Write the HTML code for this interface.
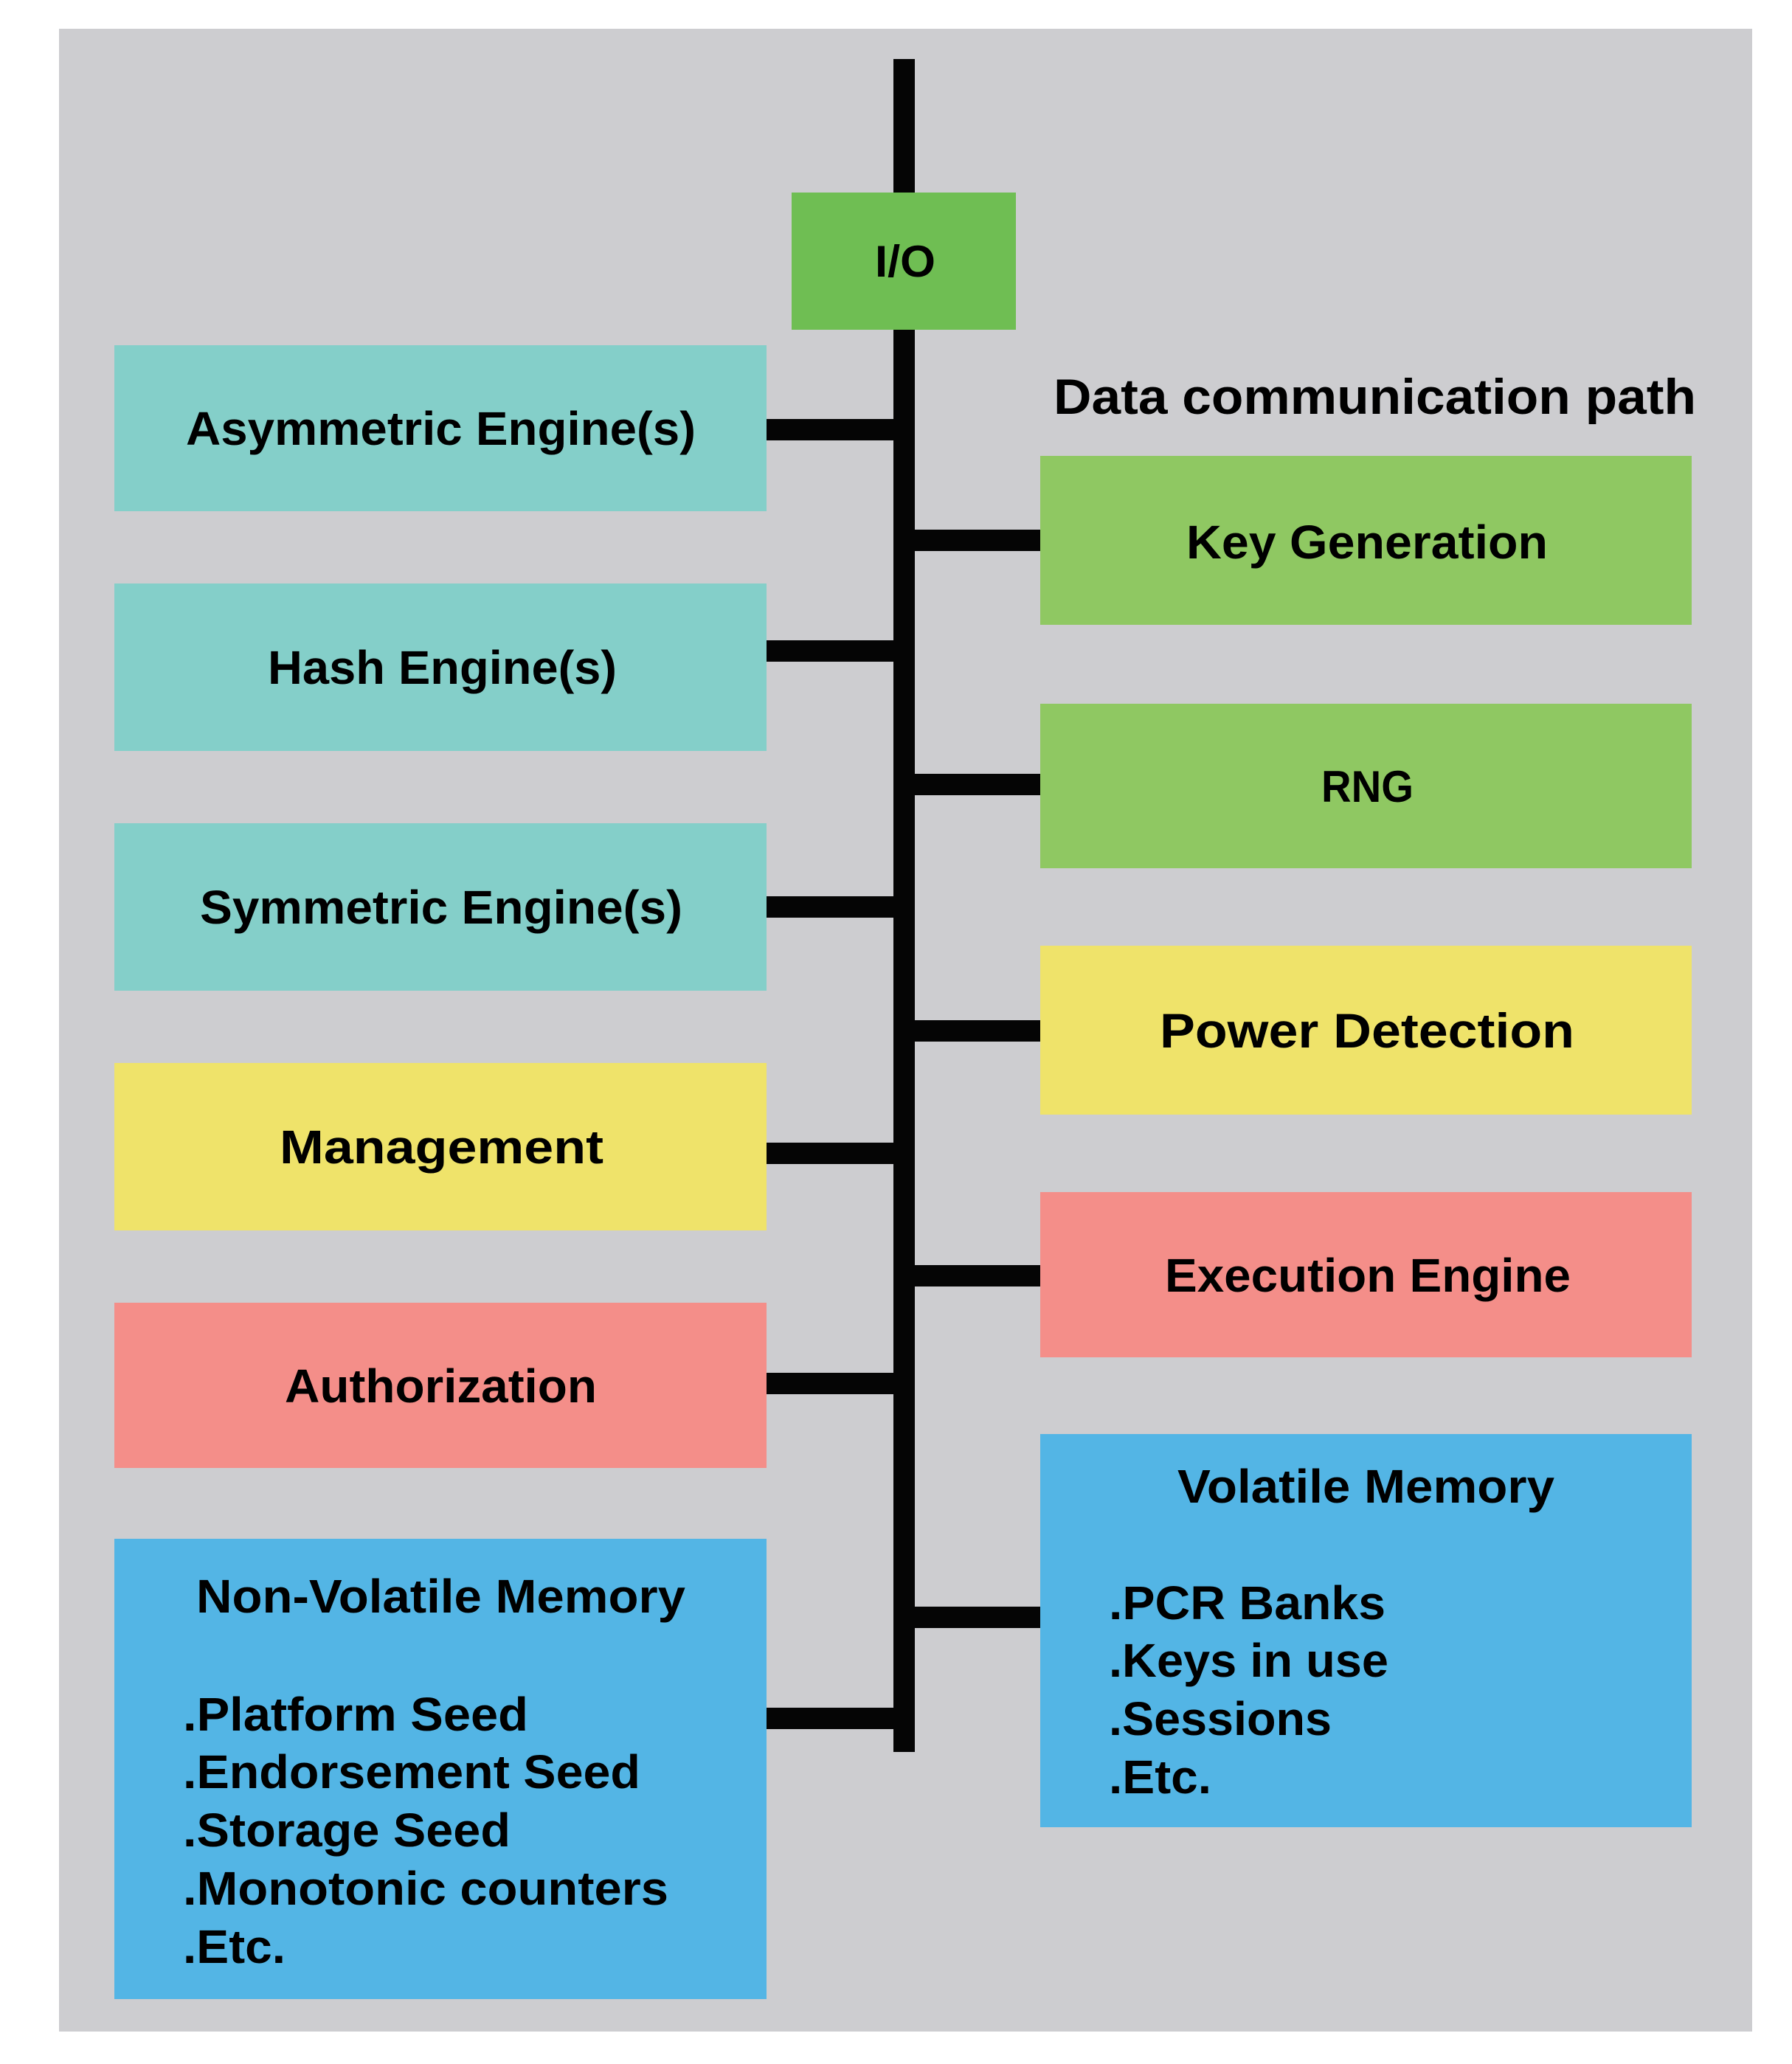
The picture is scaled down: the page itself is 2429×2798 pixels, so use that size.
<!DOCTYPE html>
<html><head><meta charset="utf-8"><style>
html,body{margin:0;padding:0;background:#fff}
svg{display:block}
text{font-family:"Liberation Sans",Arial,sans-serif;font-weight:bold;fill:#000}
</style></head><body>
<svg width="2429" height="2798" viewBox="0 0 2429 2798" xmlns="http://www.w3.org/2000/svg">
<rect x="0" y="0" width="2429" height="2798" fill="#fff"/>
<rect x="80" y="39" width="2295" height="2715" fill="#cdcdd0"/>
<!-- bus -->
<rect x="1211" y="80" width="29" height="2295" fill="#050505"/>
<!-- I/O -->
<rect x="1073" y="261" width="304" height="186" fill="#6fbe53"/>
<text x="1186" y="375" font-size="60" textLength="82" lengthAdjust="spacingAndGlyphs">I/O</text>
<!-- left connectors -->
<rect x="1033" y="568" width="180" height="29" fill="#050505"/>
<rect x="1033" y="868" width="180" height="29" fill="#050505"/>
<rect x="1033" y="1215" width="180" height="29" fill="#050505"/>
<rect x="1033" y="1549" width="180" height="29" fill="#050505"/>
<rect x="1033" y="1861" width="180" height="29" fill="#050505"/>
<rect x="1033" y="2315" width="180" height="29" fill="#050505"/>
<!-- right connectors -->
<rect x="1238" y="718" width="182" height="29" fill="#050505"/>
<rect x="1238" y="1049" width="182" height="29" fill="#050505"/>
<rect x="1238" y="1383" width="182" height="29" fill="#050505"/>
<rect x="1238" y="1715" width="182" height="29" fill="#050505"/>
<rect x="1238" y="2178" width="182" height="29" fill="#050505"/>
<!-- left boxes -->
<rect x="155" y="468" width="884" height="225" fill="#84cfc9"/>
<text x="252" y="603" font-size="64" textLength="691" lengthAdjust="spacingAndGlyphs">Asymmetric Engine(s)</text>
<rect x="155" y="791" width="884" height="227" fill="#84cfc9"/>
<text x="363" y="927" font-size="64" textLength="473" lengthAdjust="spacingAndGlyphs">Hash Engine(s)</text>
<rect x="155" y="1116" width="884" height="227" fill="#84cfc9"/>
<text x="271" y="1252" font-size="64" textLength="654" lengthAdjust="spacingAndGlyphs">Symmetric Engine(s)</text>
<rect x="155" y="1441" width="884" height="227" fill="#efe36a"/>
<text x="379" y="1577" font-size="64" textLength="439" lengthAdjust="spacingAndGlyphs">Management</text>
<rect x="155" y="1766" width="884" height="224" fill="#f48e89"/>
<text x="386" y="1901" font-size="64" textLength="423" lengthAdjust="spacingAndGlyphs">Authorization</text>
<rect x="155" y="2086" width="884" height="624" fill="#53b5e5"/>
<text x="266" y="2186" font-size="64" textLength="663" lengthAdjust="spacingAndGlyphs">Non-Volatile Memory</text>
<text x="248" y="2346" font-size="64" textLength="468" lengthAdjust="spacingAndGlyphs">.Platform Seed</text>
<text x="248" y="2424" font-size="64" textLength="620" lengthAdjust="spacingAndGlyphs">.Endorsement Seed</text>
<text x="248" y="2503" font-size="64" textLength="444" lengthAdjust="spacingAndGlyphs">.Storage Seed</text>
<text x="248" y="2582" font-size="64" textLength="658" lengthAdjust="spacingAndGlyphs">.Monotonic counters</text>
<text x="248" y="2661" font-size="64" textLength="139" lengthAdjust="spacingAndGlyphs">.Etc.</text>
<!-- right side -->
<text x="1428" y="561" font-size="68" textLength="871" lengthAdjust="spacingAndGlyphs">Data communication path</text>
<rect x="1410" y="618" width="883" height="229" fill="#8fc862"/>
<text x="1608" y="757" font-size="64" textLength="490" lengthAdjust="spacingAndGlyphs">Key Generation</text>
<rect x="1410" y="954" width="883" height="223" fill="#8fc862"/>
<text x="1791" y="1087" font-size="60" textLength="125" lengthAdjust="spacingAndGlyphs">RNG</text>
<rect x="1410" y="1282" width="883" height="229" fill="#efe36a"/>
<text x="1572" y="1420" font-size="66" textLength="562" lengthAdjust="spacingAndGlyphs">Power Detection</text>
<rect x="1410" y="1616" width="883" height="224" fill="#f48e89"/>
<text x="1579" y="1751" font-size="64" textLength="550" lengthAdjust="spacingAndGlyphs">Execution Engine</text>
<rect x="1410" y="1944" width="883" height="533" fill="#53b5e5"/>
<text x="1596" y="2037" font-size="64" textLength="511" lengthAdjust="spacingAndGlyphs">Volatile Memory</text>
<text x="1503" y="2195" font-size="64" textLength="375" lengthAdjust="spacingAndGlyphs">.PCR Banks</text>
<text x="1503" y="2273" font-size="64" textLength="379" lengthAdjust="spacingAndGlyphs">.Keys in use</text>
<text x="1503" y="2352" font-size="64" textLength="302" lengthAdjust="spacingAndGlyphs">.Sessions</text>
<text x="1503" y="2431" font-size="64" textLength="139" lengthAdjust="spacingAndGlyphs">.Etc.</text>
</svg>
</body></html>
